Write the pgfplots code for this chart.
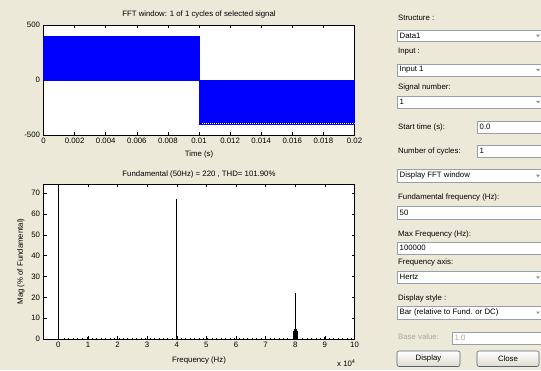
\documentclass[border=0pt]{standalone}
\usepackage{pgfplots}
\pgfplotsset{compat=1.18}
\usepackage{fontspec}
\setmainfont{Liberation Sans}
\definecolor{bg}{RGB}{236,233,216}
\definecolor{boxc}{RGB}{150,160,170}
\definecolor{dis}{RGB}{172,168,153}
\definecolor{arrowc}{RGB}{150,150,150}
\definecolor{btnb}{RGB}{90,100,115}
\definecolor{btnbot}{RGB}{222,219,205}
\newcommand\lab[3][black]{\node[anchor=west,inner sep=0pt,text=#1] at (398,{370-#3}) {#2};}
\newcommand\popup[3]{%
  \draw[draw=boxc, fill=white, line width=0.6pt] (397,{370-#1}) rectangle (545,{370-#2});
  \node[anchor=west,inner sep=0pt] at (399.5,{370-(#1+#2)/2}) {#3};
  \fill[arrowc] (536,{370-(#1+#2)/2+1}) -- (540,{370-(#1+#2)/2+1}) -- (538,{370-(#1+#2)/2-1.5}) -- cycle;}
\newcommand\edit[5][black]{%
  \draw[draw=boxc, fill=white, line width=0.6pt] (#2,{370-#3}) rectangle (545,{370-#4});
  \node[anchor=west,inner sep=0pt,text=#1] at ({#2+2.5},{370-(#3+#4)/2}) {#5};}
\newcommand\button[3]{%
  \draw[rounded corners=2pt, draw=btnb, line width=0.6pt, top color=white, bottom color=btnbot] (#1,{370-351}) rectangle (#2,{370-366.5});
  \node at ({(#1+#2)/2},{370-358.7}) {#3};}
\begin{document}
\begin{tikzpicture}[x=1pt,y=1pt,font=\fontsize{7.8}{9}\selectfont]
\useasboundingbox (0,0) rectangle (541,370);
\clip (0,0) rectangle (541,370);
\fill[bg] (0,0) rectangle (541,370);
\pgfplotsset{
  every axis/.append style={
    scale only axis,
    anchor=south west,
    axis background/.style={fill=white},
    tick align=inside,
    major tick length=3pt,
    tick style={black,line width=0.4pt},
    axis line style={black,line width=0.5pt},
    /pgf/number format/assume math mode=true,
    scaled x ticks=false,
    scaled y ticks=false,
    tick label style={font=\fontsize{7.8}{9}\selectfont},
    label style={font=\fontsize{7.8}{9}\selectfont},
    title style={font=\fontsize{7.8}{9}\selectfont},
  }
}
% ---------- top axis: time signal ----------
\begin{axis}[
  at={(43.5pt,235pt)}, width=311pt, height=110pt,
  xmin=0, xmax=0.02, ymin=-500, ymax=500,
  xtick={0,0.002,0.004,0.006,0.008,0.01,0.012,0.014,0.016,0.018,0.02},
  xticklabels={0,0.002,0.004,0.006,0.008,0.01,0.012,0.014,0.016,0.018,0.02},
  ytick={-500,0,500},
  title={FFT window: 1 of 1 cycles of selected signal},
  title style={yshift=-2.5pt},
  xlabel={Time (s)},
]
\addplot[fill=blue, draw=blue, line width=0.3pt] coordinates {(0,0) (0,395) (0.01,395) (0.01,0)} -- cycle;
\addplot[fill=blue, draw=blue, line width=0.3pt] coordinates {(0.01,0) (0.01,-400) (0.02,-400) (0.02,0)} -- cycle;
\addplot[white, line width=0.5pt, dash pattern=on 0.8pt off 1.2pt] coordinates {(0.0102,-397) (0.02,-397)};
\end{axis}
% ---------- bottom axis: spectrum ----------
\begin{axis}[
  at={(43.5pt,31pt)}, width=311pt, height=155pt,
  xmin=-0.5, xmax=10, ymin=0, ymax=74.4,
  xtick={0,1,2,3,4,5,6,7,8,9,10},
  ytick={0,10,20,30,40,50,60,70},
  title={Fundamental (50Hz) = 220 , THD= 101.90\%},
  title style={yshift=-4pt},
  xlabel={Frequency (Hz)},
  xlabel style={yshift=-1.5pt},
  ylabel={Mag (\% of Fundamental)},
]
% small harmonics (noise floor)
\addplot[ycomb, black, line width=0.9pt] coordinates {
(0.2,0.6)(0.35,0.4)(0.5,0.7)(0.65,0.5)(0.8,0.6)(1.0,0.9)(1.15,0.5)(1.3,0.6)(1.45,0.4)(1.6,0.7)
(1.75,0.5)(1.9,0.6)(2.05,0.5)(2.2,0.7)(2.35,0.4)(2.5,0.6)(2.65,0.5)(2.8,0.7)(2.95,0.5)(3.1,0.6)
(3.25,0.4)(3.4,0.6)(3.55,0.5)(3.7,0.7)(3.85,0.6)(4.15,0.6)(4.3,0.5)(4.45,0.7)(4.6,0.4)(4.75,0.6)
(4.9,0.5)(5.05,0.7)(5.2,0.5)(5.35,0.6)(5.5,0.4)(5.65,0.6)(5.8,0.5)(5.95,0.7)(6.1,0.5)(6.25,0.6)
(6.4,0.4)(6.55,0.6)(6.7,0.5)(6.85,0.7)(7.0,0.6)(7.15,0.5)(7.3,0.6)(7.45,0.4)(7.6,0.7)(7.75,0.5)
(8.25,0.6)(8.4,0.5)(8.55,0.7)(8.7,0.4)(8.85,0.6)(9.0,0.9)(9.15,0.5)(9.3,0.6)(9.45,0.4)(9.6,0.7)
(9.75,0.5)(9.9,0.6)};
% sidebands around 80 kHz
\addplot[ycomb, black, line width=1pt] coordinates {(7.95,3.8)(7.98,4.6)(8.03,4.6)(8.06,4.0)};
% main components
\addplot[ycomb, black, line width=0.9pt] coordinates {(0.005,100)};
\addplot[ycomb, black, line width=1.4pt] coordinates {(4,67.2)(8,22)};
\end{axis}
\node[anchor=base west,inner sep=0pt] at (337,4) {x 10\textsuperscript{4}};
% ---------- right panel ----------
\lab{Structure :}{17.5}
\popup{30}{41.5}{Data1}
\lab{Input :}{52}
\popup{64}{76}{Input 1}
\lab{Signal number:}{87}
\popup{96}{108}{1}
\lab{Start time (s):}{127}
\edit{477}{121}{133}{0.0}
\lab{Number of cycles:}{151.5}
\edit{477}{145}{157}{1}
\popup{169.5}{182}{Display FFT window}
\lab{Fundamental frequency (Hz):}{197}
\edit{397}{206.5}{219}{50}
\lab{Max Frequency (Hz):}{234}
\edit{397}{242}{254}{100000}
\lab{Frequency axis:}{262}
\popup{271}{283.5}{Hertz}
\lab{Display style :}{298.5}
\popup{306}{319}{Bar (relative to Fund. or DC)}
\lab[dis]{Base value:}{337}
\edit[dis]{452}{332}{344}{1.0}
\button{397}{460}{Display}
\button{477}{539}{Close}
\end{tikzpicture}
\end{document}
